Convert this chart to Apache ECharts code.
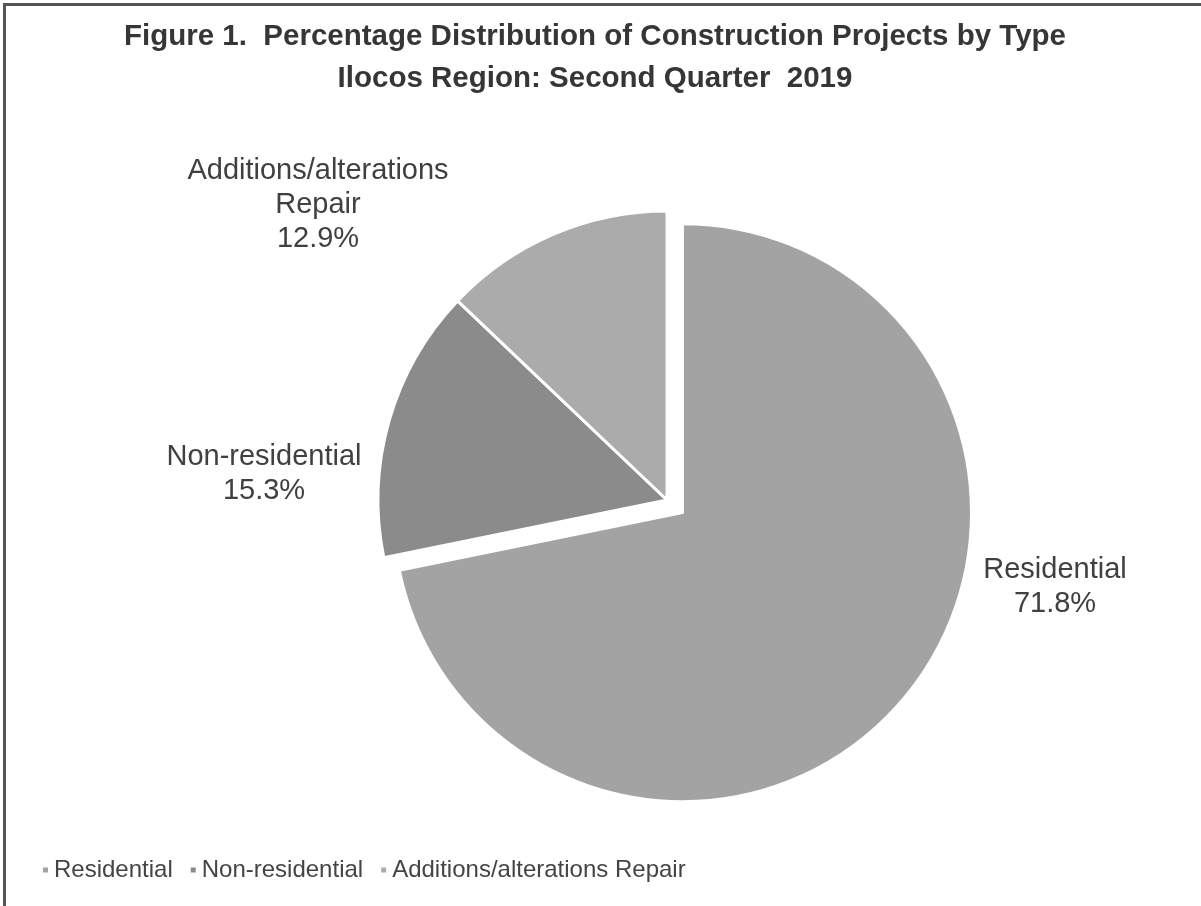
<!DOCTYPE html>
<html>
<head>
<meta charset="utf-8">
<script src="https://cdn.jsdelivr.net/npm/echarts@6/dist/echarts.min.js"></script>
<style>
  html, body { margin: 0; padding: 0; background: #fff; }
  #chart { width: 1201px; height: 906px; }
</style>
</head>
<body>
<div id="chart"></div>
<script>
// data
const categories = ['Residential', 'Non-residential', 'Additions/alterations Repair'];
const shares = [71.8, 15.3, 12.9];
const pieLabels = ['Residential', 'Non-residential', 'Additions/alterations\nRepair'];
const colors = ['#a3a3a3', '#8b8b8b', '#ababab'];

const chart = echarts.init(document.getElementById('chart'));

// where each outside label sits (centre of text block)
const labelSpots = [
  [1055, 587],
  [264, 474],
  [318, 205],
];

const labelTexts = categories.map((c, i) => ({
  type: 'text',
  x: labelSpots[i][0],
  y: labelSpots[i][1],
  style: {
    text: pieLabels[i] + '\n' + shares[i].toFixed(1) + '%',
    fontSize: 29,
    lineHeight: 34,
    fontFamily: 'Liberation Sans, Arial, sans-serif',
    fill: '#404040',
    align: 'center',
    verticalAlign: 'middle',
  },
}));

const option = {
  animation: false,
  textStyle: { fontFamily: 'Liberation Sans, Arial, sans-serif' },
  title: {
    text: 'Figure 1.  Percentage Distribution of Construction Projects by Type\nIlocos Region: Second Quarter  2019',
    left: 590,
    top: 11,
    textAlign: 'center',
    textStyle: {
      fontSize: 29.5,
      fontWeight: 'bold',
      color: '#363636',
      lineHeight: 42,
    },
  },
  legend: {
    left: 36,
    top: 853,
    itemWidth: 7,
    itemHeight: 7,
    itemGap: 16,
    icon: 'rect',
    data: categories,
    textStyle: { fontSize: 24, color: '#444' },
  },
  color: colors,
  graphic: [
    { type: 'rect', shape: { x: 3, y: 3, width: 1198, height: 3 }, style: { fill: '#555' } },
    { type: 'rect', shape: { x: 3, y: 3, width: 3, height: 903 }, style: { fill: '#555' } },
  ].concat(labelTexts),
  series: [{
    type: 'pie',
    center: [667, 500],
    radius: 289,
    startAngle: 90,
    clockwise: true,
    selectedMode: 'single',
    selectedOffset: 20,
    avoidLabelOverlap: false,
    itemStyle: { borderColor: '#fff', borderWidth: 3 },
    emphasis: { disabled: true },
    label: { show: false },
    labelLine: { show: false },
    data: categories.map((name, i) => ({
      name: name,
      value: shares[i],
      selected: i === 0,
    })),
  }],
};

chart.setOption(option);
window.addEventListener('resize', chart.resize);
</script>
</body>
</html>
